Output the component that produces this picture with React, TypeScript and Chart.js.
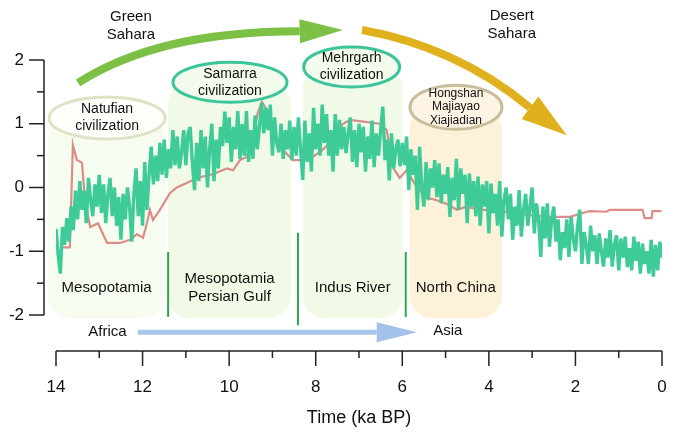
import { useEffect, useRef } from 'react';
import { Chart, registerables } from 'chart.js';

Chart.register(...registerables);

// green record: one value every 0.05 ka, from 14 ka down to 0 ka
const greenStart = 14;
const greenStep = 0.05;
const greenValues = [
  -0.65, -1.05, -1.35, -0.62, -0.9, -0.48, -0.85, -0.3, -0.67, -0.05,
  -0.5, 0.1, -0.35, -0.05, -0.56, 0.15, -0.2, -0.45, 0.05, -0.3,
  0.2, -0.4, 0.05, -0.56, -0.1, 0.15, -0.45, 0.0, -0.6, -0.15,
  -0.82, -0.1, -0.5, 0.0, -0.3, -0.85, -0.1, 0.3, -0.45, 0.1,
  -0.6, 0.4, -0.35, 0.2, 0.64, 0.05, 0.5, 0.1, 0.7, 0.2,
  0.75, 0.15, 0.6, 0.3, 0.9, 0.35, 0.8, 0.3, 0.55, 0.9,
  0.35, 0.85, 0.95, 0.4, -0.04, 0.7, 0.1, 0.9, 0.3, 0.8,
  0.0, 0.6, 1.0, 0.1, 0.75, 0.3, 0.95, 0.65, 1.19, 0.7,
  1.1, 0.4, 0.95, 0.6, 1.2, 0.45, 1.0, 0.5, 1.2, 0.4,
  0.9, 0.45, 1.13, 0.6, 0.95, 1.33, 0.85, 1.25, 0.9, 1.3,
  0.5, 1.1, 0.7, 0.55, 1.0, 0.45, 0.9, 0.6, 1.05, 0.43,
  0.95, 0.5, 1.1, 0.6, 0.12, 1.05, 0.4, 0.85, 0.25, 1.25,
  0.6, 1.0, 0.5, 1.3, 0.7, 1.15, 0.5, 0.9, 0.25, 1.15,
  0.5, 1.06, 0.6, 0.95, 0.54, 0.85, 1.1, 0.4, 0.9, 0.32,
  1.0, 0.55, 0.95, 0.25, 0.8, 0.45, 1.05, 0.32, 0.85, 0.5,
  0.9, 1.27, 0.43, 0.75, 0.11, 0.85, 0.3, 0.6, 0.75, 0.33,
  0.7, 0.35, 0.8, -0.04, 0.6, 0.2, 0.5, -0.35, 0.64, 0.0,
  -0.3, 0.4, -0.2, 0.3, 0.0, 0.43, -0.15, 0.38, -0.25, 0.2,
  -0.1, 0.32, -0.46, 0.15, -0.2, 0.45, -0.35, 0.3, -0.1, 0.2,
  -0.56, 0.22, -0.3, 0.1, -0.45, 0.17, -0.6, 0.05, -0.3, 0.1,
  -0.72, 0.06, -0.4, -0.1, -0.6, 0.1, -0.77, -0.2, 0.0, -0.5,
  -0.1, -0.82, -0.3, -0.6, -0.04, -0.77, -0.35, -0.1, -0.6, -0.3,
  0.0, -0.72, -0.25, -0.5, -1.09, -0.3, -0.8, -0.25, -0.93, -0.5,
  -0.3, -0.85, -0.5, -1.14, -0.7, -0.95, -0.5, -1.09, -0.46, -0.8,
  -1.0, -0.6, -0.35, -1.2, -0.7, -0.9, -1.2, -0.6, -1.0, -0.75,
  -1.2, -0.72, -1.0, -1.24, -0.8, -1.1, -0.67, -1.24, -0.9, -0.75,
  -1.3, -0.8, -1.1, -0.77, -1.25, -0.95, -1.3, -0.77, -1.15, -0.85,
  -1.35, -0.88, -1.2, -1.0, -1.35, -0.82, -1.4, -0.9, -1.3, -0.85, -1.1,
];

// red record (ka BP, value)
const redYears = [
  13.86, 13.68, 13.61, 13.52, 13.4, 13.33, 13.21, 13.03, 12.82, 12.52,
  12.29, 12.13, 11.99, 11.9, 11.83, 11.76, 11.6, 11.37, 11.21, 10.98,
  10.74, 10.38, 10.05, 9.91, 9.75, 9.59, 9.45, 9.34, 9.24, 9.13,
  8.99, 8.76, 8.53, 8.37, 8.07, 7.84, 7.6, 7.37, 7.21, 6.52,
  6.36, 6.22, 6.06, 5.9, 5.66, 5.43, 5.2, 4.97, 4.74, 4.51,
  4.21, 3.91, 3.29, 2.66, 2.13, 1.83, 1.67, 1.28, 1.21, 0.45,
  0.4, 0.24, 0.22, 0.01,
];
const redValues = [
  -0.94, -0.94, 0.67, 0.43, 0.39, -0.2, -0.62, -0.56, -0.87, -0.87,
  -0.82, -0.73, -0.79, -0.56, -0.35, -0.51, -0.35, -0.09, 0, 0.07,
  0.15, 0.21, 0.3, 0.27, 0.43, 0.48, 0.8, 1.17, 1.34, 1.22,
  0.9, 0.59, 0.43, 0.43, 0.48, 0.59, 0.75, 1.0, 1.06, 1.0,
  0.9, 0.32, 0.15, 0.27, 0, -0.16, -0.2, -0.26, -0.35, -0.3,
  -0.35, -0.35, -0.42, -0.46, -0.46, -0.4, -0.37, -0.38, -0.35, -0.35,
  -0.48, -0.48, -0.37, -0.37,
];

const xTicks = [14, 12, 10, 8, 6, 4, 2, 0];
const yTicks = [2, 1, 0, -1, -2];

// regions (ka BP)
const regionNames = [['Mesopotamia'], ['Mesopotamia', 'Persian Gulf'], ['Indus River'], ['North China']];
const regionFrom = [14.18, 11.41, 8.3, 5.83];
const regionTo = [11.48, 8.57, 5.99, 3.7];
const regionTop = [1.09, 1.65, 1.89, 1.26];
const dividerYears = [11.41, 8.41, 5.92];

const cultureNames = [
  ['Natufian', 'civilization'],
  ['Samarra', 'civilization'],
  ['Mehrgarh', 'civilization'],
  ['Hongshan', 'Majiayao', 'Xiajiadian'],
];
const cultureYears = [12.82, 9.98, 7.17, 4.76];
const cultureLevels = [1.09, 1.65, 1.89, 1.26];

const FONT = '"Liberation Sans", Arial, sans-serif';

const overlay = {
  id: 'overlay',
  beforeDatasetsDraw(chart: any) {
    const { ctx } = chart;
    const X = (v: number) => chart.scales.x.getPixelForValue(v);
    const Y = (v: number) => chart.scales.y.getPixelForValue(v);
    const fills = ['#f7fcf1', '#f1fae7', '#f1fae7', '#fdf1d9'];
    ctx.save();
    regionNames.forEach((lines, i) => {
      const x0 = X(regionFrom[i]);
      const x1 = X(regionTo[i]);
      const y0 = Y(regionTop[i]);
      const y1 = Y(-2.05);
      ctx.fillStyle = fills[i];
      ctx.beginPath();
      ctx.roundRect(x0, y0, x1 - x0, y1 - y0, 22);
      ctx.fill();
      ctx.fillStyle = '#111';
      ctx.font = `15px ${FONT}`;
      ctx.textAlign = 'center';
      ctx.textBaseline = 'middle';
      const cx = (x0 + x1) / 2;
      const cy = Y(-1.58);
      lines.forEach((t, k) => {
        ctx.fillText(t, cx, cy + (k - (lines.length - 1) / 2) * 18);
      });
    });
    ctx.strokeStyle = '#2ea84c';
    ctx.lineWidth = 2;
    const spans = [[-1.01, -2.03], [-0.71, -2.16], [-1.01, -2.03]];
    dividerYears.forEach((yr, i) => {
      ctx.beginPath();
      ctx.moveTo(X(yr), Y(spans[i][0]));
      ctx.lineTo(X(yr), Y(spans[i][1]));
      ctx.stroke();
    });
    ctx.restore();
  },
  afterDatasetsDraw(chart: any) {
    const { ctx, chartArea } = chart;
    const X = (v: number) => chart.scales.x.getPixelForValue(v);
    const Y = (v: number) => chart.scales.y.getPixelForValue(v);
    ctx.save();

    // culture ellipses
    const strokes = ['#dfe3c6', '#3cc49a', '#3cc49a', '#c8bd9c'];
    const inner = ['#fefefb', '#f3fbec', '#f3fbec', '#fdf4e4'];
    const rx = [58, 57, 48, 46];
    const ry = [21, 20, 20, 22];
    cultureNames.forEach((lines, i) => {
      const cx = X(cultureYears[i]);
      const cy = Y(cultureLevels[i]);
      ctx.beginPath();
      ctx.ellipse(cx, cy, rx[i], ry[i], 0, 0, Math.PI * 2);
      ctx.fillStyle = inner[i];
      ctx.fill();
      ctx.lineWidth = 3;
      ctx.strokeStyle = strokes[i];
      ctx.stroke();
      const small = lines.length > 2;
      ctx.fillStyle = '#111';
      ctx.font = `${small ? 12 : 14}px ${FONT}`;
      ctx.textAlign = 'center';
      ctx.textBaseline = 'middle';
      const lh = small ? 13.5 : 17;
      lines.forEach((t, k) => {
        ctx.fillText(t, cx, cy + (k - (lines.length - 1) / 2) * lh);
      });
    });

    // curved arrows
    const curvedArrow = (pts: number[][], tip: number[], color: string, half: number) => {
      const p = pts.map(([a, b]) => [X(a), Y(b)]);
      const t = [X(tip[0]), Y(tip[1])];
      ctx.strokeStyle = color;
      ctx.fillStyle = color;
      ctx.lineWidth = 8;
      ctx.beginPath();
      ctx.moveTo(p[0][0], p[0][1]);
      ctx.bezierCurveTo(p[1][0], p[1][1], p[2][0], p[2][1], p[3][0], p[3][1]);
      ctx.stroke();
      const dx = t[0] - p[3][0];
      const dy = t[1] - p[3][1];
      const len = Math.hypot(dx, dy);
      const nx = -dy / len;
      const ny = dx / len;
      ctx.beginPath();
      ctx.moveTo(t[0], t[1]);
      ctx.lineTo(p[3][0] + nx * half, p[3][1] + ny * half);
      ctx.lineTo(p[3][0] - nx * half, p[3][1] - ny * half);
      ctx.closePath();
      ctx.fill();
    };
    curvedArrow([[13.49, 1.64], [12.29, 2.16], [10.68, 2.45], [8.37, 2.45]], [7.37, 2.47], '#7cc145', 12);
    curvedArrow([[6.93, 2.47], [5.6, 2.31], [4.21, 1.92], [3.05, 1.25]], [2.2, 0.82], '#e0b11e', 14);

    // Africa -> Asia arrow
    const ay = Y(-2.27);
    ctx.strokeStyle = '#aac6ea';
    ctx.fillStyle = '#a3c2ea';
    ctx.lineWidth = 5;
    ctx.beginPath();
    ctx.moveTo(X(12.11), ay);
    ctx.lineTo(X(6.59), ay);
    ctx.stroke();
    ctx.beginPath();
    ctx.moveTo(X(5.66), ay);
    ctx.lineTo(X(6.59), ay - 10);
    ctx.lineTo(X(6.59), ay + 10);
    ctx.closePath();
    ctx.fill();

    ctx.fillStyle = '#111';
    ctx.font = `15px ${FONT}`;
    ctx.textAlign = 'center';
    ctx.textBaseline = 'middle';
    ctx.fillText('Africa', X(12.81), ay);
    ctx.fillText('Asia', X(4.95), ay - 1);
    ctx.fillText('Green', X(12.27), Y(2.67));
    ctx.fillText('Sahara', X(12.27), Y(2.39));
    ctx.fillText('Desert', X(3.47), Y(2.69));
    ctx.fillText('Sahara', X(3.47), Y(2.41));

    // axes
    ctx.strokeStyle = '#222';
    ctx.lineWidth = 1.5;
    const axX = chartArea.left - 12;
    ctx.beginPath();
    ctx.moveTo(axX, Y(2));
    ctx.lineTo(axX, Y(-2));
    ctx.stroke();
    ctx.font = `17px ${FONT}`;
    ctx.textAlign = 'right';
    for (let v = 2; v >= -2; v -= 0.5) {
      const major = yTicks.includes(v);
      ctx.beginPath();
      ctx.moveTo(axX - (major ? 15 : 7), Y(v));
      ctx.lineTo(axX, Y(v));
      ctx.stroke();
    }
    yTicks.forEach((v) => ctx.fillText(String(v), axX - 20, Y(v)));

    const axY = chartArea.bottom + 36;
    ctx.beginPath();
    ctx.moveTo(X(14), axY);
    ctx.lineTo(X(0), axY);
    ctx.stroke();
    for (let v = 14; v >= 0; v -= 1) {
      const major = xTicks.includes(v);
      ctx.beginPath();
      ctx.moveTo(X(v), axY);
      ctx.lineTo(X(v), axY + (major ? 15 : 7));
      ctx.stroke();
    }
    ctx.textAlign = 'center';
    xTicks.forEach((v) => ctx.fillText(String(v), X(v), axY + 36));
    ctx.font = `18px ${FONT}`;
    ctx.fillText('Time (ka BP)', (X(14) + X(0)) / 2, axY + 67);
    ctx.restore();
  },
};

export default function App() {
  const canvasRef = useRef<HTMLCanvasElement | null>(null);

  useEffect(() => {
    document.body.style.margin = '0';
    if (!canvasRef.current) return;
    const green = greenValues.map((v, i) => ({ x: greenStart - i * greenStep, y: v }));
    const red = redValues.map((v, i) => ({ x: redYears[i], y: v }));
    const chart = new Chart(canvasRef.current, {
      type: 'line',
      data: {
        datasets: [
          {
            data: green,
            borderColor: '#3ecb98',
            borderWidth: 3.4,
            borderJoinStyle: 'bevel',
            pointRadius: 0,
            tension: 0,
            order: 0,
          },
          {
            data: red,
            borderColor: '#da8c87',
            borderWidth: 2.2,
            pointRadius: 0,
            tension: 0,
            order: 1,
          },
        ],
      },
      options: {
        animation: false,
        responsive: false,
        layout: { padding: { left: 56, right: 18, top: 60, bottom: 119 } },
        plugins: { legend: { display: false }, tooltip: { enabled: false } },
        scales: {
          x: { type: 'linear', min: 0, max: 14, reverse: true, display: false },
          y: { min: -2, max: 2, display: false },
        },
      },
      plugins: [overlay],
    });
    return () => chart.destroy();
  }, []);

  return (
    <div style={{ width: 680, height: 434, background: '#fff' }}>
      <canvas ref={canvasRef} width={680} height={434}></canvas>
    </div>
  );
}
